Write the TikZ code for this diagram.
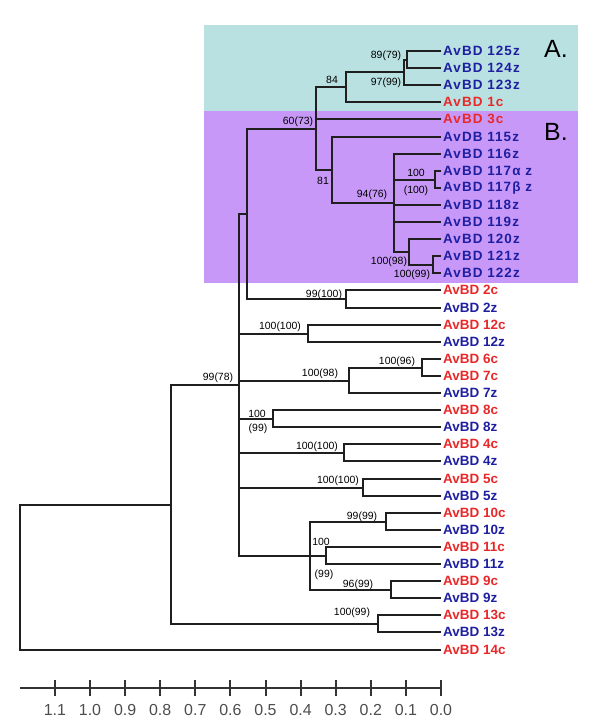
\documentclass[tikz,border=0pt]{standalone}
\usepackage{fontspec}
\setmainfont{Liberation Sans}
\newfontfamily\spacedfont{Liberation Sans}[LetterSpace=8]
\usepackage{tikz}
\usetikzlibrary{positioning, math}
\definecolor{zblue}{RGB}{30,30,160}
\definecolor{cred}{RGB}{232,40,40}
\definecolor{boxcyan}{RGB}{186,225,226}
\definecolor{boxpurple}{RGB}{200,152,248}
\tikzset{%
  % branch of the tree, drawn as an elbow
  branch/.style={line width=2bp, draw=black!88},
  % leaf label below the boxes
  leaf/.style={anchor=west, inner sep=2bp, font=\bfseries\fontsize{13.5}{14}\selectfont},
  % leaf label inside the coloured boxes (spaced letters)
  boxleaf/.style={anchor=west, inner sep=2bp, font=\spacedfont\bfseries\fontsize{13.5}{14}\selectfont},
  % bootstrap values
  boot/.style={inner sep=0pt, font=\fontsize{10.5}{11}\selectfont},
  % group letters A. and B.
  group/.style={inner sep=0pt, font=\fontsize{25}{26}\selectfont},
  % scale bar
  scaleline/.style={line width=2bp, draw=black!80},
  scalelabel/.style={inner sep=0pt, text=black!70, font=\fontsize{16}{17}\selectfont}
}
\begin{document}
\begin{tikzpicture}[x=1bp, y=-1bp]
  \useasboundingbox (0,0) rectangle (600,725);

  % coloured boxes behind the groups
  \fill[boxcyan] (204,25) rectangle (578,111);
  \fill[boxpurple] (204,111) rectangle (578,283);
  \node[group] (grpA) at (556,49) {A.};
  \node[group] (grpB) at (556,132) {B.};

  % leaves, one row about every 17 units
  \foreach \name/\txt/\col/\y in {l125/AvBD 125z/zblue/51, l124/AvBD 124z/zblue/68, l123/AvBD 123z/zblue/85,
      l1c/AvBD 1c/cred/102, l3c/AvBD 3c/cred/119, l115/AvDB 115z/zblue/137, l116/AvBD 116z/zblue/154,
      l117a/AvBD 117α z/zblue/171, l117b/AvBD 117β z/zblue/188, l118/AvBD 118z/zblue/205,
      l119/AvBD 119z/zblue/222, l120/AvBD 120z/zblue/239, l121/AvBD 121z/zblue/256, l122/AvBD 122z/zblue/273} {
    \node[boxleaf, text=\col] (\name) at (441,\y) {\txt};
  }
  \foreach \name/\txt/\col/\y in {l2c/AvBD 2c/cred/290, l2z/AvBD 2z/zblue/308, l12c/AvBD 12c/cred/325,
      l12z/AvBD 12z/zblue/342, l6c/AvBD 6c/cred/359, l7c/AvBD 7c/cred/376, l7z/AvBD 7z/zblue/393,
      l8c/AvBD 8c/cred/410, l8z/AvBD 8z/zblue/427, l4c/AvBD 4c/cred/444, l4z/AvBD 4z/zblue/461,
      l5c/AvBD 5c/cred/479, l5z/AvBD 5z/zblue/496, l10c/AvBD 10c/cred/513, l10z/AvBD 10z/zblue/530,
      l11c/AvBD 11c/cred/547, l11z/AvBD 11z/zblue/564, l9c/AvBD 9c/cred/581, l9z/AvBD 9z/zblue/598,
      l13c/AvBD 13c/cred/615, l13z/AvBD 13z/zblue/632, l14c/AvBD 14c/cred/650} {
    \node[leaf, text=\col] (\name) at (441,\y) {\txt};
  }

  % inner nodes of the tree (y = middle of the children)
  \coordinate (c125) at (407,60);
  \coordinate (c123) at (404,72);
  \coordinate (cA) at (346,87);
  \coordinate (cAB) at (316,129);
  \coordinate (c115) at (332,170);
  \coordinate (c116) at (394,203);
  \coordinate (c117) at (435,180);
  \coordinate (c120) at (409,252);
  \coordinate (c121) at (433,265);
  \coordinate (cup) at (247,214);
  \coordinate (c2) at (346,299);
  \coordinate (cmain) at (239,385);
  \coordinate (c12) at (308,334);
  \coordinate (c67) at (349,381);
  \coordinate (c6) at (422,368);
  \coordinate (c8) at (273,419);
  \coordinate (c4) at (344,453);
  \coordinate (c5) at (363,488);
  \coordinate (c911) at (310,556);
  \coordinate (c10) at (386,522);
  \coordinate (c11) at (326,556);
  \coordinate (c9) at (391,590);
  \coordinate (c13) at (378,624);
  \coordinate (cin) at (171,505);
  \coordinate (root) at (20,578);

  % branches
  \foreach \p/\c in {root/cin, root/l14c, cin/cmain, cin/c13, c13/l13c, c13/l13z,
      cmain/cup, cmain/c12, cmain/c67, cmain/c8, cmain/c4, cmain/c5, cmain/c911,
      cup/cAB, cup/c2, c2/l2c, c2/l2z, c12/l12c, c12/l12z,
      c67/c6, c67/l7z, c6/l6c, c6/l7c, c8/l8c, c8/l8z, c4/l4c, c4/l4z, c5/l5c, c5/l5z,
      c911/c10, c911/c11, c911/c9, c10/l10c, c10/l10z, c11/l11c, c11/l11z, c9/l9c, c9/l9z,
      cAB/cA, cAB/l3c, cAB/c115, cA/c123, cA/l1c, c123/c125, c123/l123, c125/l125, c125/l124,
      c115/l115, c115/c116, c116/l116, c116/c117, c116/l118, c116/l119, c116/c120,
      c117/l117a, c117/l117b, c120/l120, c120/c121, c121/l121, c121/l122} {
    \draw[branch] (\p) |- (\c);
  }

  % bootstrap values
  \node[boot] (b8979) at (386,56) {89(79)};
  \node[boot] (b9799) at (386,83) {97(99)};
  \node[boot] (b84) at (332,80) {84};
  \node[boot] (b6073) at (298,122) {60(73)};
  \node[boot] (b81) at (323,181) {81};
  \node[boot] (b9476) at (372,195) {94(76)};
  \node[boot] (b117a) at (416,173) {100};
  \node[boot] (b117b) at (416,191) {(100)};
  \node[boot] (b10098) at (389,262) {100(98)};
  \node[boot] (b10099) at (412,275) {100(99)};
  \node[boot] (b2) at (324,295) {99(100)};
  \node[boot] (b12) at (280,327) {100(100)};
  \node[boot] (b67) at (320,374) {100(98)};
  \node[boot] (b6) at (397,362) {100(96)};
  \node[boot] (b9978) at (218,378) {99(78)};
  \node[boot] (b8a) at (257,414) {100};
  \node[boot] (b8b) at (258,429) {(99)};
  \node[boot] (b4) at (317,447) {100(100)};
  \node[boot] (b5) at (338,481) {100(100)};
  \node[boot] (b10) at (362,517) {99(99)};
  \node[boot] (b11a) at (321,542) {100};
  \node[boot] (b11b) at (324,575) {(99)};
  \node[boot] (b9) at (358,585) {96(99)};
  \node[boot] (b13) at (352,613) {100(99)};

  % scale bar
  \coordinate (ax0) at (20,688);
  \coordinate (ax1) at (441,688);
  \draw[scaleline] (ax0) -- (ax1);
  \foreach \lab [count=\k from 0] in {0.0,0.1,0.2,0.3,0.4,0.5,0.6,0.7,0.8,0.9,1.0,1.1} {
    \tikzmath{\tx = 441-35.1*\k;}
    \draw[scaleline] (\tx,680) -- (\tx,696);
    \node[scalelabel] (t\k) at (\tx,710) {\lab};
  }
\end{tikzpicture}
\end{document}
